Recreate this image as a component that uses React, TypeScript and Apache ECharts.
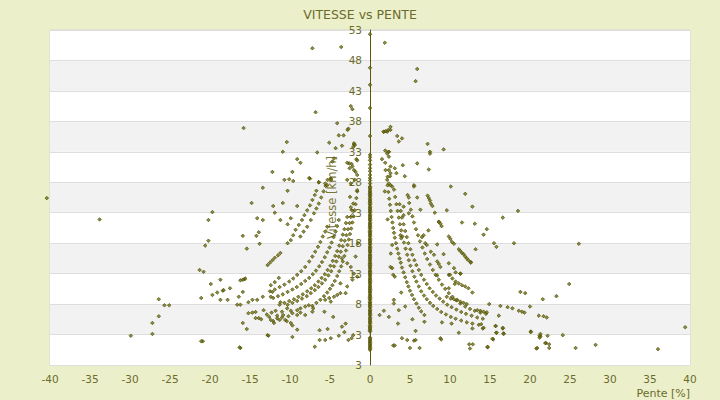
import React, { useEffect, useRef } from "react";
import * as echarts from "echarts";

// ---- data ----
const chartTitle = "VITESSE vs PENTE";
const xName = "Pente [%]";
const yName = "Vitesse [km/h]";

// points lying on slope 0 (a dense column)
const zeroSpeeds = [
  52.3, 46.8, 44.0, 40.2, 35.6, 32.5, 32.1, 31.6, 30.9, 30.3, 29.8, 29.2, 28.7, 28.3, 27.8, 27.3,
  26.9, 26.4, 26.0, 25.6, 25.1, 24.7, 24.3, 23.8, 23.4, 23.0, 22.5, 22.1, 21.7, 21.2, 20.8, 20.4,
  19.9, 19.5, 19.1, 18.6, 18.2, 17.8, 17.3, 16.9, 16.5, 16.0, 15.6, 15.2, 14.7, 14.3, 13.9, 13.4,
  13.0, 12.6, 12.1, 11.7, 11.3, 10.8, 10.4, 10.0, 9.5, 9.1, 8.7, 8.2, 7.8, 7.4, 6.9, 6.5, 6.1,
  5.6, 5.2, 4.8, 4.3, 3.9, 3.5, 2.5, 2.1, 1.7, 1.3, 0.9, 0.5,
  0.7, 1.1, 1.5, 1.9, 2.3, 3.7, 4.1, 4.5, 5.0, 5.4, 5.8, 6.3, 6.7, 7.1, 7.6, 8.0, 8.4, 8.9, 9.3,
  9.8, 10.2, 10.6, 11.0, 11.5, 11.9, 12.3, 12.8, 13.2, 13.6, 14.1, 14.5, 14.9, 15.4, 15.8, 16.2,
  16.7, 17.1, 17.5, 18.0, 18.4, 18.8, 19.3, 19.7, 20.1, 20.6, 21.0, 21.4, 21.9, 22.3, 22.7, 23.2,
  23.6, 24.0, 24.5, 24.9, 25.3, 25.8, 26.2, 26.6, 27.1,
];

// uphill (positive slope) points
const uphill: number[][] = [
  // arc A
  [2.2,27.5],[2.3,26.4],[2.4,25.3],[2.5,24.3],[2.6,23.3],[2.7,22.3],[2.8,21.4],[2.9,20.5],[3.0,19.7],[3.1,18.9],
  [3.25,18.0],[3.4,17.1],[3.55,16.3],[3.7,15.5],[3.85,14.8],[4.0,14.0],[4.2,13.2],[4.4,12.4],[4.6,11.6],[4.8,10.9],
  [5.0,10.2],[5.25,9.5],[5.5,8.8],[5.8,8.1],[6.1,7.4],[6.4,6.8],[6.8,6.2],
  // arc B
  [3.0,26.8],[3.15,25.6],[3.3,24.4],[3.45,23.3],[3.6,22.2],[3.75,21.1],[3.9,20.1],[4.05,19.1],[4.25,18.1],[4.45,17.1],
  [4.65,16.1],[4.85,15.2],[5.05,14.3],[5.3,13.4],[5.55,12.5],[5.8,11.7],[6.1,10.9],[6.4,10.1],[6.75,9.4],[7.1,8.8],
  [7.5,8.2],[7.9,7.7],[8.4,7.2],[8.9,6.7],[9.5,6.3],[10.1,5.9],[10.7,5.6],[11.4,5.3],[12.1,5.0],[12.8,4.8],[13.6,4.6],
  // arc C
  [3.7,24.4],[3.85,23.3],[4.0,22.2],[4.2,21.1],[4.4,20.0],[4.6,19.0],[4.8,18.0],[5.05,17.0],[5.3,16.1],[5.55,15.2],
  [5.8,14.4],[6.1,13.6],[6.4,12.8],[6.75,12.0],[7.1,11.3],[7.45,10.6],[7.85,10.0],[8.25,9.4],[8.7,8.9],[9.15,8.4],
  [9.65,7.9],[10.2,7.5],[10.8,7.1],[11.4,6.7],[12.0,6.4],[12.7,6.1],[13.4,5.8],[14.1,5.6],
  // arc D
  [4.9,24.6],[5.1,23.5],[5.3,22.4],[5.5,21.4],[5.75,20.3],[6.0,19.3],[6.25,18.3],[6.55,17.3],[6.85,16.3],[7.15,15.4],
  [7.5,14.5],[7.85,13.6],[8.2,12.8],[8.6,12.0],[9.0,11.2],[9.4,10.5],[9.85,9.8],[10.3,9.2],[10.8,8.6],[11.3,8.1],
  [11.9,7.6],[12.5,7.2],[13.1,6.9],[13.8,6.6],[14.5,6.4],
  // outer arcs
  [7.2,25.8],[7.35,25.4],[7.5,25.0],[7.6,24.5],[7.8,24.1],[8.6,21.5],[8.8,21.2],[8.95,20.8],[9.85,19.1],[10.05,18.7],
  [10.25,18.2],[10.5,17.9],[11.1,17.0],[11.3,16.7],[11.5,16.4],[11.7,16.2],[11.9,15.8],[12.1,15.5],[12.3,15.2],[12.6,14.9],
  [6.9,18.0],[7.1,17.7],[7.6,16.6],[8.0,16.1],[8.4,15.0],[8.6,14.6],[8.8,14.1],[9.85,14.7],[10.5,13.9],[11.3,13.0],
  [9.85,12.8],[10.3,12.2],[10.7,11.7],[11.1,11.4],[11.5,11.1],[11.9,10.9],[12.3,10.6],
  [9.6,9.2],[10.1,8.9],[10.5,8.8],[10.9,8.7],[11.3,8.4],[11.7,8.2],[12.1,8.0],[13.4,7.0],[13.8,6.9],[14.2,6.75],[14.6,6.65],
  // near the axis, high speeds
  [1.73,36.3],[2.15,36.3],[2.56,37.1],[2.56,36.6],[1.7,36.3],[2.0,36.4],[2.3,36.6],[3.4,35.6],[3.6,34.7],[4.0,35.2],
  [2.36,33.0],[2.15,32.7],[2.36,32.2],[1.9,33.2],[2.3,33.0],[1.5,31.8],[1.94,30.0],[2.36,30.0],[2.56,30.6],[2.56,29.5],
  [2.15,28.4],[2.36,27.8],[2.56,27.5],[2.77,27.3],[1.9,31.2],[2.5,29.0],[2.2,28.9],[3.1,30.3],[3.3,29.5],[4.1,30.8],
  [4.35,29.0],[5.9,31.1],[7.2,34.3],[7.5,33.0],[7.5,32.7],[9.2,33.4],[7.35,30.1],
  // scattered
  [10.1,27.3],[11.9,26.1],[12.8,24.0],[9.6,23.4],[8.1,23.0],[6.3,23.5],[5.5,27.5],[5.5,27.3],[4.7,25.9],[4.85,25.5],
  [5.9,25.5],[16.6,22.2],[18.5,23.3],[11.5,21.4],[13.1,21.2],[14.6,20.3],[14.2,19.4],[15.5,18.0],[15.8,17.4],[18.0,18.0],
  [13.2,17.0],[12.6,14.8],[9.2,16.2],[8.4,17.8],[6.5,19.0],[8.4,12.7],[9.85,10.6],[10.0,12.8],[10.7,13.2],[11.3,13.0],
  [10.6,11.3],[12.8,9.9],[18.8,10.0],[19.4,9.8],[21.6,8.8],[14.9,8.0],[16.3,7.7],[17.2,7.5],[17.8,7.3],[18.6,6.9],
  [19.0,6.75],[19.3,6.6],[20.0,7.6],[21.1,6.1],[21.7,6.0],[22.1,5.8],[16.1,6.1],[15.7,4.4],[15.8,3.3],[16.6,4.0],
  [16.7,3.2],[14.1,4.0],[11.1,3.3],[12.8,4.0],[5.7,3.6],[5.3,5.5],[6.8,5.1],[9.0,5.0],[10.2,4.8],[4.0,2.4],
  [4.65,2.1],[5.5,2.0],[5.7,2.1],[8.8,2.4],[8.9,2.2],[2.9,1.2],[3.1,1.2],[5.0,0.8],[6.2,0.8],[12.4,1.4],
  [12.85,1.4],[12.5,0.7],[14.7,0.9],[15.4,2.2],[20.1,3.5],[21.3,2.7],[21.2,2.5],[22.0,1.6],[20.8,0.7],[22.4,1.4],
  [1.2,6.2],[1.73,6.9],[2.36,5.9],[2.98,8.7],[2.98,8.1],[3.6,7.0],[3.5,4.8],[4.4,7.6],[3.9,9.9],[2.9,12.8],
  [3.1,12.5],[2.77,13.9],[2.56,14.1],[2.6,16.3],[2.77,17.7],[2.2,21.9],[1.85,26.5],[3.8,19.3],[3.9,18.8],[4.2,24.0],
  [4.2,22.6],[4.85,22.9],[6.7,19.3],[7.3,20.1],[8.6,21.5],
  [13.9,4.7],[14.2,4.1],[15.7,4.4],[15.8,3.3],[16.6,4.1],[16.7,3.1],[15.3,2.3],[14.7,1.0],[20.1,3.4],[21.2,2.8],
  [21.3,3.1],[22.2,2.8],[24.1,2.9],[21.9,1.6],[20.9,0.8],[22.4,0.8],[25.7,0.8],[28.2,1.3],[36.0,0.6],[39.4,4.2],
  [26.1,17.9],[24.9,11.3],[23.3,9.3],
  // top outliers
  [1.85,50.9],[5.7,44.6],[5.9,46.6],
];

// downhill (negative slope) points
const downhill: number[][] = [
  // arc 1
  [-1.6,26.5],[-1.7,25.4],[-1.8,24.4],[-1.9,23.4],[-2.05,22.4],[-2.2,21.4],[-2.35,20.4],[-2.5,19.5],[-2.65,18.6],[-2.8,17.7],
  [-3.0,16.8],[-3.2,15.9],[-3.4,15.0],[-3.6,14.2],[-3.85,13.4],[-4.1,12.6],[-4.4,11.8],[-4.7,11.1],[-5.0,10.5],[-5.35,9.9],
  [-5.75,9.3],[-6.2,8.7],[-6.7,8.2],[-7.2,7.7],
  // arc 2
  [-2.1,24.5],[-2.25,23.4],[-2.4,22.3],[-2.55,21.3],[-2.75,20.3],[-2.95,19.3],[-3.15,18.4],[-3.4,17.5],[-3.65,16.6],[-3.9,15.8],
  [-4.2,15.0],[-4.5,14.2],[-4.85,13.4],[-5.2,12.7],[-5.6,12.0],[-6.0,11.4],[-6.45,10.8],[-6.9,10.3],[-7.4,9.8],[-7.9,9.3],
  [-8.5,8.9],[-9.1,8.5],[-9.7,8.2],[-10.3,7.9],
  // arc 3
  [-2.85,22.3],[-3.0,21.3],[-3.2,20.3],[-3.4,19.4],[-3.6,18.5],[-3.85,17.6],[-4.1,16.7],[-4.35,15.9],[-4.65,15.1],[-4.95,14.3],
  [-5.3,13.6],[-5.65,12.9],[-6.05,12.3],[-6.45,11.7],[-6.9,11.1],[-7.35,10.6],[-7.85,10.1],[-8.4,9.6],[-8.95,9.2],[-9.5,8.8],
  [-10.1,8.5],[-10.7,8.2],[-11.3,7.9],
  // arc 4
  [-3.9,21.8],[-4.1,20.8],[-4.3,19.9],[-4.55,19.0],[-4.8,18.1],[-5.05,17.3],[-5.35,16.5],[-5.65,15.7],[-6.0,14.9],[-6.35,14.2],
  [-6.75,13.5],[-7.15,12.9],[-7.6,12.3],[-8.1,11.8],[-8.6,11.3],[-9.15,10.8],[-9.7,10.4],[-10.3,10.0],[-10.9,9.6],[-11.5,9.3],
  [-12.1,9.0],
  // arc 5
  [-5.35,20.7],[-5.6,19.9],[-5.9,19.1],[-6.2,18.2],[-6.5,17.4],[-6.85,16.6],[-7.2,15.8],[-7.6,15.0],[-8.1,14.1],[-8.6,13.4],
  [-9.1,12.8],[-9.6,12.2],[-10.1,11.7],[-10.7,11.2],[-11.3,10.8],[-11.9,10.4],[-12.5,10.1],
  // outer arcs
  [-6.7,26.6],[-6.9,25.9],[-7.2,25.1],[-7.5,24.2],[-7.85,23.4],[-8.2,22.6],[-8.5,21.8],[-8.9,21.0],[-9.3,20.2],[-9.6,19.3],
  [-9.9,18.5],[-10.3,18.0],
  [-5.3,28.4],[-5.55,27.4],[-5.8,26.5],[-6.1,25.5],[-6.4,24.5],[-6.7,23.7],[-7.0,22.9],[-7.4,21.8],[-7.85,20.7],[-8.3,19.9],
  [-8.7,19.1],
  [-12.8,14.4],[-12.5,14.8],[-12.2,15.2],[-11.9,15.6],[-11.5,16.0],[-11.2,16.4],
  // near the axis, high speeds
  [-3.9,35.7],[-3.3,35.7],[-2.8,36.6],[-2.0,34.2],[-2.1,33.8],[-5.1,34.5],[-4.3,33.6],[-3.5,34.0],[-1.7,31.8],[-6.6,32.9],
  [-4.5,31.9],[-4.7,31.4],[-2.6,31.1],[-2.2,30.6],[-1.8,29.7],[-1.6,29.2],[-5.6,27.8],[-5.35,27.5],[-6.4,28.0],[-4.9,28.6],
  [-4.85,28.4],[-2.85,28.4],[-2.4,27.8],[-1.9,28.4],[-7.5,28.6],[-1.6,26.7],[-2.5,25.6],[-2.4,23.9],
  [-2.2,40.0],[-2.7,36.8],[-2.0,34.4],[-1.9,34.1],[-2.85,31.2],[-2.3,31.0],[-2.55,30.3],[-2.0,30.0],[-1.6,31.6],
  [-4.1,37.7],[-6.8,39.5],[-2.4,40.5],[-7.2,50.0],[-3.6,50.2],
  // scattered
  [-15.8,36.9],[-10.4,34.6],[-10.9,33.0],[-9.1,31.8],[-8.7,31.2],[-12.2,29.7],[-9.7,29.7],[-10.7,28.4],[-10.1,28.5],[-9.6,28.2],
  [-7.6,28.7],[-13.4,27.1],[-10.3,26.6],[-6.4,28.0],[-14.8,24.6],[-19.7,23.1],[-20.2,21.8],[-12.1,24.1],[-10.9,24.6],[-11.9,23.0],
  [-14.1,22.1],[-13.4,21.8],[-11.2,21.8],[-9.9,22.1],[-10.3,21.1],[-9.1,24.1],[-15.9,19.2],[-14.2,19.2],[-13.9,19.8],[-20.2,18.4],
  [-13.8,17.9],[-15.4,17.1],[-20.8,13.3],[-19.9,11.3],[-18.7,12.0],[-19.7,9.5],[-19.1,9.9],[-18.4,10.2],[-18.3,10.3],[-17.8,8.7],
  [-17.5,10.6],[-18.7,8.7],[-21.1,9.0],[-16.2,11.9],[-15.9,12.0],[-15.7,12.1],[-15.6,12.2],[-15.9,10.0],[-16.4,9.2],[-16.6,7.9],
  [-16.2,7.9],[-15.2,8.3],[-14.7,8.7],[-14.1,8.7],[-13.4,9.2],[-12.2,10.0],[-12.4,11.1],[-11.9,11.6],[-11.4,12.3],[-12.4,9.2],
  [-11.2,8.3],[-15.9,4.9],[-15.4,3.9],[-20.9,1.9],[-16.2,0.8],[-15.2,6.5],[-14.7,6.6],[-14.3,6.7],[-14.3,5.7],[-13.9,5.7],
  [-13.6,5.5],[-13.3,7.0],[-12.9,6.3],[-12.6,5.9],[-12.3,6.6],[-12.1,5.2],[-11.8,6.9],[-11.6,6.1],[-11.0,5.8],[-10.6,5.4],
  [-10.2,6.0],[-10.4,5.2],[-9.9,4.9],[-9.7,4.5],[-9.1,3.8],[-9.7,2.6],[-12.8,2.9],[-12.7,2.8],[-6.9,1.0],[-6.3,2.1],
  [-5.6,2.1],[-4.9,2.4],[-6.3,3.7],[-5.3,3.9],[-3.9,2.8],[-3.2,3.4],[-2.7,2.1],[-2.3,2.4],[-2.1,2.9],[-4.6,5.9],
  [-9.1,7.0],[-8.7,7.3],[-8.1,7.6],[-7.65,7.8],[-10.35,7.3],[-9.9,6.9],[-9.7,6.5],[-11.0,6.75],[-10.85,6.2],[-9.1,6.2],
  [-8.7,6.6],[-8.1,6.2],[-7.2,6.75],[-7.1,7.3],[-5.7,6.75],[-11.6,5.65],[-11.3,5.4],[-12.0,4.9],[-12.4,5.4],
  [-5.6,8.7],[-5.1,9.0],[-4.9,8.4],[-4.5,9.2],[-4.1,9.5],[-3.7,9.8],[-3.5,15.5],[-2.85,14.7],[-2.4,14.1],[-2.0,13.0],
  [-2.2,12.0],[-2.85,10.9],[-3.05,9.8],[-3.7,11.4],[-3.5,4.3],[-3.05,4.8],[-1.6,12.5],[-1.8,15.8],[-1.5,18.0],
  // far left
  [-40.4,25.4],[-33.8,21.9],[-27.2,4.9],[-27.2,3.1],[-29.9,2.8],[-26.4,8.8],[-25.7,7.8],[-25.1,7.8],[-26.4,6.0],
  [-21.1,1.9],[-21.3,13.6],[-20.6,17.6],[-16.3,0.9],
];

const xMin = -40;
const xMax = 40;
const xStep = 5;
const yMin = -2;
const yMax = 53;
const yStep = 5;

const olive = "#6b6b2b";

export default function App() {
  const ref = useRef<HTMLDivElement>(null);

  useEffect(() => {
    if (!ref.current) return;
    const chart = echarts.init(ref.current, undefined, { renderer: "svg" });
    const points = [
      ...zeroSpeeds.map((v) => [0, v]),
      ...uphill,
      ...downhill,
    ];
    const gridLeft = 50;
    const gridWidth = 640;
    // y axis drawn at slope 0: shift it inward from the grid's left edge
    const zeroOffset = -((0 - xMin) / (xMax - xMin)) * gridWidth;
    chart.setOption({
      animation: false,
      backgroundColor: "#ebf0cb",
      title: {
        text: chartTitle,
        left: "center",
        top: 3,
        textStyle: {
          fontFamily: "DejaVu Sans",
          fontSize: 12.5,
          fontWeight: "normal",
          color: olive,
        },
      },
      grid: {
        left: gridLeft,
        top: 30,
        width: gridWidth,
        height: 335,
        show: true,
        backgroundColor: "#ffffff",
        borderColor: "#d6d6d6",
        borderWidth: 1,
        containLabel: false,
      },
      xAxis: {
        type: "value",
        min: xMin,
        max: xMax,
        interval: xStep,
        name: xName,
        nameLocation: "end",
        nameGap: 0,
        nameTextStyle: {
          fontFamily: "DejaVu Sans",
          fontSize: 11,
          color: olive,
          align: "right",
          verticalAlign: "top",
          padding: [23, 0, 0, 0],
        },
        axisLine: { show: false, onZero: false },
        axisTick: { show: false },
        splitLine: { show: false },
        axisLabel: {
          margin: 8,
          fontFamily: "DejaVu Sans",
          fontSize: 10.5,
          color: olive,
        },
      },
      yAxis: {
        type: "value",
        position: "left",
        offset: zeroOffset,
        min: yMin,
        max: yMax,
        interval: yStep,
        name: yName,
        nameLocation: "middle",
        nameGap: 26,
        nameTextStyle: {
          fontFamily: "DejaVu Sans",
          fontSize: 11.5,
          color: "#77773a",
        },
        axisLine: { show: true, onZero: false, lineStyle: { color: "#5a5a00", width: 1 } },
        axisTick: { show: false },
        splitLine: { show: true, lineStyle: { color: "#dedede", width: 1 } },
        splitArea: { show: true, areaStyle: { color: ["#ffffff", "#f2f2f2"] } },
        axisLabel: {
          margin: 8,
          fontFamily: "DejaVu Sans",
          fontSize: 10.5,
          color: olive,
          formatter: (v: number) => (v < 0 ? "3" : String(v)),
        },
      },
      series: [
        {
          type: "scatter",
          data: points,
          symbol: "diamond",
          symbolSize: 3.6,
          clip: false,
          z: 3,
          itemStyle: {
            color: "#6e6e14",
            borderColor: "#4a4a00",
            borderWidth: 0.8,
          },
        },
      ],
    });
    return () => chart.dispose();
  }, []);

  return (
    <div
      ref={ref}
      style={{ position: "fixed", left: 0, top: 0, width: 720, height: 400 }}
    />
  );
}
